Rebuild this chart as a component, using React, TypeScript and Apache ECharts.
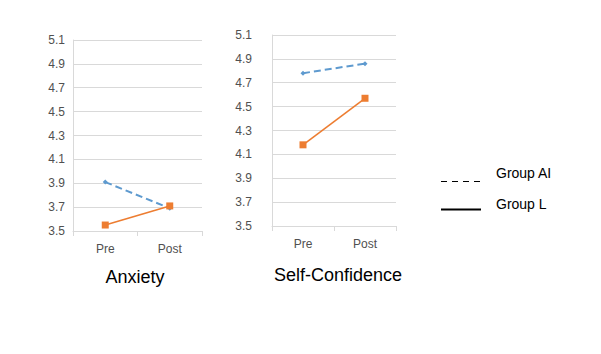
import React, { useEffect, useRef } from "react";
import * as echarts from "echarts";

const categories = ["Pre", "Post"];
const anxietyAI = [3.91, 3.69];
const anxietyL = [3.55, 3.71];
const confidenceAI = [4.78, 4.86];
const confidenceL = [4.18, 4.57];
const yMin = 3.5;
const yMax = 5.1;
const yStep = 0.2;
const titles = ["Anxiety", "Self-Confidence"];
const legendNames = ["Group AI", "Group L"];

const BLUE = "#5E9ACF";
const ORANGE = "#ED7D31";
const GRID = "#D9D9D9";
const LABEL = "#505050";
const FONT = "'Liberation Sans', Arial, sans-serif";

export default function App() {
  const ref = useRef<HTMLDivElement>(null);
  useEffect(() => {
    if (!ref.current) return;
    const chart = echarts.init(ref.current, undefined, { renderer: "svg" });
    const yAxisBase = (gridIndex: number, margin: number) => ({
      type: "value" as const,
      gridIndex,
      min: yMin,
      max: yMax,
      interval: yStep,
      axisLine: { show: true, lineStyle: { color: GRID, width: 1 } },
      axisTick: { show: false },
      splitLine: { show: true, lineStyle: { color: GRID, width: 1 } },
      axisLabel: {
        color: LABEL,
        fontSize: 12,
        fontFamily: FONT,
        margin,
        formatter: (v: number) => v.toFixed(1),
      },
    });
    const xAxisBase = (gridIndex: number) => ({
      type: "category" as const,
      gridIndex,
      data: categories,
      boundaryGap: true,
      axisLine: { show: true, lineStyle: { color: GRID, width: 1 } },
      axisTick: { show: true, length: 5, lineStyle: { color: GRID } },
      splitLine: { show: false },
      axisLabel: { color: LABEL, fontSize: 12, fontFamily: FONT, margin: 12 },
    });
    const aiSeries = (i: number, data: number[]) => ({
      type: "line" as const,
      name: legendNames[0],
      xAxisIndex: i,
      yAxisIndex: i,
      data,
      symbol: "diamond",
      symbolSize: 5,
      lineStyle: { color: BLUE, width: 2, type: [7, 4] as any },
      itemStyle: { color: BLUE },
    });
    const lSeries = (i: number, data: number[]) => ({
      type: "line" as const,
      name: legendNames[1],
      xAxisIndex: i,
      yAxisIndex: i,
      data,
      symbol: "rect",
      symbolSize: 7,
      lineStyle: { color: ORANGE, width: 1.6 },
      itemStyle: { color: ORANGE },
    });
    chart.setOption({
      animation: false,
      backgroundColor: "#ffffff",
      title: [
        {
          text: titles[0],
          left: 130,
          top: 263,
          textAlign: "center",
          textStyle: { fontSize: 18, fontWeight: "normal", color: "#000", fontFamily: FONT },
        },
        {
          text: titles[1],
          left: 333,
          top: 261,
          textAlign: "center",
          textStyle: { fontSize: 18, fontWeight: "normal", color: "#000", fontFamily: FONT },
        },
      ],
      grid: [
        { left: 73, top: 40, width: 129, height: 191 },
        { left: 272, top: 35, width: 124, height: 191 },
      ],
      xAxis: [xAxisBase(0), xAxisBase(1)],
      yAxis: [yAxisBase(0, 8), yAxisBase(1, 20)],
      series: [
        aiSeries(0, anxietyAI),
        lSeries(0, anxietyL),
        aiSeries(1, confidenceAI),
        lSeries(1, confidenceL),
      ],
      graphic: [
        {
          type: "line",
          shape: { x1: 441, y1: 181.5, x2: 481, y2: 181.5 },
          style: { stroke: "#000", lineWidth: 1, lineDash: [6, 5] },
        },
        {
          type: "line",
          shape: { x1: 441, y1: 209.5, x2: 481, y2: 209.5 },
          style: { stroke: "#000", lineWidth: 2 },
        },
        {
          type: "text",
          x: 496,
          y: 172.5,
          style: { text: legendNames[0], fontSize: 14, fontFamily: FONT, fill: "#000", verticalAlign: "middle" },
        },
        {
          type: "text",
          x: 496,
          y: 203.5,
          style: { text: legendNames[1], fontSize: 14, fontFamily: FONT, fill: "#000", verticalAlign: "middle" },
        },
      ],
    });
    return () => chart.dispose();
  }, []);
  return <div ref={ref} style={{ width: 601, height: 354, position: "absolute", left: 0, top: 0 }} />;
}
